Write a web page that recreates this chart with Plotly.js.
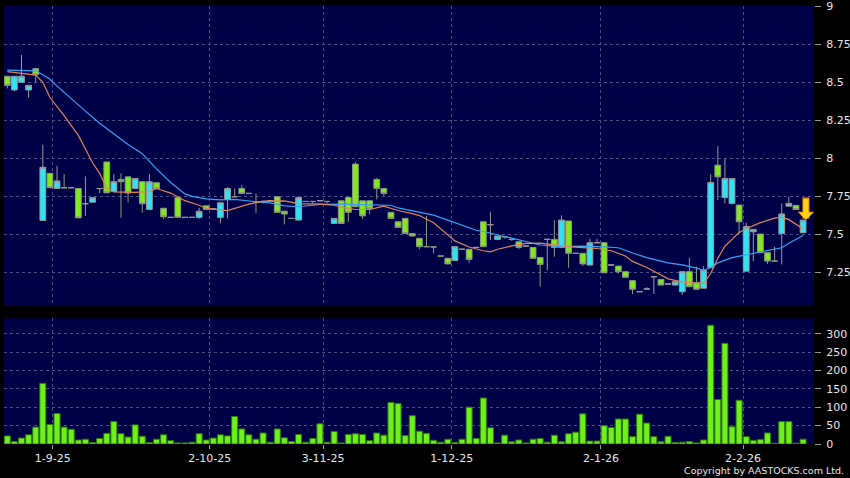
<!DOCTYPE html>
<html>
<head>
<meta charset="utf-8">
<script src="https://cdn.plot.ly/plotly-3.0.1.min.js"></script>
<style>html,body{margin:0;padding:0;background:#000;}#chart{width:850px;height:478px;}</style>
</head>
<body>
<div id="chart"></div>
<script>
// ---- data (index = trading day) ----
const tickLabels = ['1-9-25','2-10-25','3-11-25','1-12-25','2-1-26','2-2-26'];
const tickIdx = [6.4, 28.5, 44.45, 62.55, 83.55, 103.55];

const open = [
8.54,8.45,8.50,8.45,8.59,7.59,7.90,7.80,7.805,7.805,
7.80,7.70,7.71,7.80,7.975,7.78,7.86,7.877,7.80,7.845,
7.662,7.838,7.67,7.61,7.74,7.61,7.61,7.61,7.686,7.665,
7.61,7.728,7.746,7.80,7.768,7.713,7.713,7.72,7.746,7.651,
7.603,7.592,7.715,7.715,7.72,7.715,7.57,7.719,7.741,7.961,
7.719,7.719,7.86,7.80,7.643,7.581,7.603,7.504,7.472,7.417,
7.415,7.355,7.34,7.325,7.40,7.40,7.412,7.581,7.562,7.465,
7.482,7.465,7.449,7.421,7.412,7.345,7.465,7.465,7.412,7.586,
7.373,7.373,7.296,7.443,7.443,7.296,7.289,7.252,7.193,7.12,
7.138,7.219,7.201,7.171,7.164,7.12,7.252,7.18,7.143,7.278,
7.954,7.741,7.702,7.691,7.255,7.515,7.50,7.377,7.322,7.504,
7.684,7.689,7.509];
const high = [
8.54,8.54,8.68,8.48,8.595,8.09,7.90,7.95,7.895,7.805,
7.80,7.88,7.74,7.80,7.976,7.895,7.90,7.877,7.866,7.845,
7.895,7.838,7.67,7.61,7.741,7.61,7.61,7.673,7.686,7.665,
7.706,7.81,7.80,7.822,7.768,7.768,7.713,7.72,7.746,7.651,
7.603,7.741,7.715,7.715,7.72,7.715,7.603,7.719,7.741,7.974,
7.719,7.719,7.87,7.80,7.643,7.581,7.603,7.504,7.472,7.62,
7.415,7.355,7.34,7.417,7.40,7.40,7.412,7.581,7.647,7.487,
7.482,7.465,7.449,7.421,7.412,7.345,7.465,7.592,7.623,7.586,
7.373,7.373,7.469,7.469,7.443,7.296,7.289,7.252,7.193,7.12,
7.15,7.219,7.201,7.171,7.186,7.252,7.344,7.285,7.289,7.893,
8.079,7.998,7.866,7.691,7.575,7.531,7.50,7.377,7.417,7.702,
7.746,7.689,7.592];
const low = [
8.46,8.44,8.50,8.40,8.50,7.586,7.805,7.80,7.805,7.805,
7.607,7.62,7.708,7.77,7.772,7.778,7.607,7.708,7.80,7.64,
7.662,7.80,7.60,7.61,7.61,7.61,7.61,7.60,7.662,7.665,
7.57,7.603,7.746,7.768,7.768,7.64,7.70,7.72,7.643,7.564,
7.603,7.592,7.715,7.70,7.72,7.70,7.57,7.57,7.581,7.68,
7.60,7.63,7.728,7.75,7.603,7.544,7.504,7.487,7.40,7.417,
7.373,7.355,7.303,7.325,7.40,7.31,7.412,7.417,7.461,7.465,
7.47,7.455,7.40,7.421,7.34,7.153,7.26,7.351,7.412,7.278,
7.373,7.29,7.296,7.443,7.245,7.296,7.24,7.215,7.105,7.12,
7.138,7.105,7.164,7.171,7.164,7.099,7.153,7.136,7.143,7.278,
7.724,7.702,7.702,7.504,7.255,7.32,7.377,7.303,7.322,7.30,
7.684,7.662,7.509];
const close = [
8.48,8.54,8.54,8.48,8.55,7.94,7.805,7.85,7.805,7.805,
7.607,7.70,7.74,7.80,7.772,7.845,7.845,7.77,7.866,7.70,
7.845,7.80,7.614,7.61,7.61,7.61,7.61,7.65,7.662,7.665,
7.706,7.80,7.746,7.768,7.768,7.713,7.713,7.72,7.643,7.632,
7.603,7.741,7.715,7.715,7.72,7.715,7.603,7.57,7.643,7.68,
7.62,7.669,7.80,7.768,7.603,7.544,7.504,7.487,7.417,7.417,
7.415,7.355,7.303,7.417,7.40,7.333,7.412,7.417,7.562,7.487,
7.482,7.465,7.412,7.421,7.34,7.30,7.465,7.412,7.592,7.373,
7.373,7.303,7.443,7.443,7.245,7.296,7.252,7.215,7.136,7.12,
7.138,7.219,7.164,7.171,7.186,7.252,7.153,7.136,7.263,7.84,
7.877,7.866,7.866,7.581,7.55,7.531,7.377,7.322,7.322,7.632,
7.702,7.662,7.592];
const volume = [
22,7,16,25,46,165,53,83,46,40,
11,13,4,15,29,61,28,19,52,21,
4,13,25,9,3,3,5,28,11,16,
25,22,75,41,25,13,30,5,41,17,
7,26,5,15,55,5,34,3,26,28,
26,9,30,24,113,110,23,77,35,29,
10,5,13,4,13,100,15,125,44,3,
24,6,11,3,13,15,5,24,6,28,
32,82,8,8,50,45,68,68,20,81,
57,20,6,21,4,5,7,3,11,323,
121,274,47,119,20,10,12,30,2,61,
61,2,13];

// moving averages
const maFastIdx = [0,4,5,6,8,10,11,12,13,14,15,18,20,21,23,25,27,28,31,34,36,39,41,44,46,47,49,51,53,55,57,58,60,61,62,63,65,67,68,69,71,73,75,77,79,81,83,85,87,88,90,92,93,95,97,98,99,100,101,102,103,104,106,108,109,110,112];
const maFast = [8.57,8.548,8.50,8.40,8.28,8.15,8.06,7.97,7.90,7.80,7.778,7.775,7.78,7.80,7.77,7.72,7.69,7.67,7.655,7.697,7.717,7.719,7.70,7.697,7.69,7.677,7.662,7.662,7.684,7.655,7.635,7.622,7.574,7.535,7.49,7.455,7.415,7.39,7.383,7.40,7.422,7.439,7.44,7.428,7.417,7.41,7.405,7.39,7.355,7.32,7.28,7.23,7.205,7.185,7.175,7.175,7.24,7.34,7.42,7.465,7.51,7.535,7.575,7.605,7.612,7.595,7.535];
const maSlowIdx = [0,4,5,6,7,9,11,13,15,17,19,21,23,24,25,26,28,30,32,35,37,39,41,44,48,51,54,55,57,60,62,64,66,67,69,71,73,75,78,81,84,86,88,90,93,95,97,98,99,100,102,104,106,108,109,110,112];
const maSlow = [8.58,8.576,8.55,8.52,8.475,8.39,8.31,8.23,8.16,8.09,8.03,7.93,7.84,7.80,7.765,7.748,7.732,7.725,7.728,7.713,7.705,7.686,7.68,7.695,7.697,7.692,7.69,7.672,7.655,7.625,7.592,7.558,7.525,7.517,7.497,7.473,7.451,7.428,7.417,7.42,7.416,7.41,7.375,7.345,7.31,7.297,7.275,7.26,7.28,7.31,7.345,7.365,7.385,7.405,7.41,7.44,7.49];

const priceTicks = [7.25,7.5,7.75,8,8.25,8.5,8.75,9];
const volTicks = [0,50,100,150,200,250,300];

// ---- build ----
const idx = open.map((_, i) => i);
const last = idx.length - 1;

const gridCol = '#4e4e86';
const tickFont = {family: 'DejaVu Sans, sans-serif', size: 11, color: '#e6e6e6'};

const traces = [
  {
    type: 'bar', x: idx, y: volume, xaxis: 'x', yaxis: 'y',
    marker: {color: '#6fef1c', line: {color: '#2d7a08', width: 1}},
    hoverinfo: 'skip'
  },
  {
    type: 'candlestick', x: idx, open: open, high: high, low: low, close: close,
    xaxis: 'x2', yaxis: 'y2', whiskerwidth: 0,
    increasing: {fillcolor: '#30e2f2', line: {color: '#9a9a9a', width: 1}},
    decreasing: {fillcolor: '#84e81e', line: {color: '#8a9a80', width: 1}},
    hoverinfo: 'skip'
  },
  {
    type: 'scatter', mode: 'lines', x: maSlowIdx, y: maSlow, xaxis: 'x2', yaxis: 'y2',
    line: {color: '#3aa2f0', width: 1.2}, hoverinfo: 'skip'
  },
  {
    type: 'scatter', mode: 'lines', x: maFastIdx, y: maFast, xaxis: 'x2', yaxis: 'y2',
    line: {color: '#e0845a', width: 1.2}, hoverinfo: 'skip'
  }
];

const xRange = [-0.464, 113.54];
const layout = {
  width: 850, height: 478,
  paper_bgcolor: '#000000', plot_bgcolor: '#000046',
  margin: {l: 4, r: 36, t: 6, b: 34, pad: 0},
  showlegend: false,
  bargap: 0.15,
  boxgap: 0.1, boxgroupgap: 0.1,
  xaxis: {
    domain: [0, 1], anchor: 'y', range: xRange, type: 'linear',
    tickvals: tickIdx, ticktext: tickLabels,
    showgrid: true, gridcolor: gridCol, griddash: '3px,3px', gridwidth: 1,
    ticks: 'outside', ticklen: 4, tickcolor: '#9a9a9a',
    tickfont: tickFont, zeroline: false, showline: false, fixedrange: true
  },
  yaxis: {
    domain: [0, 0.287], anchor: 'x', range: [0, 342], side: 'right',
    tickvals: volTicks, ticktext: volTicks.map(String),
    showgrid: true, gridcolor: gridCol, griddash: '3px,3px',
    ticks: 'outside', ticklen: 6, tickcolor: '#9a9a9a', ticklabelstandoff: 3,
    tickfont: tickFont, zeroline: false, showline: false, fixedrange: true
  },
  xaxis2: {
    domain: [0, 1], anchor: 'y2', range: xRange, type: 'linear',
    tickvals: tickIdx, showticklabels: false, ticks: '',
    showgrid: true, gridcolor: gridCol, griddash: '3px,3px',
    zeroline: false, showline: false, rangeslider: {visible: false}, fixedrange: true
  },
  yaxis2: {
    domain: [0.3151, 1], anchor: 'x2', range: [7.026, 9.003], side: 'right',
    tickvals: priceTicks, ticktext: priceTicks.map(String),
    showgrid: true, gridcolor: gridCol, griddash: '3px,3px',
    ticks: 'outside', ticklen: 6, tickcolor: '#9a9a9a', ticklabelstandoff: 3,
    tickfont: tickFont, zeroline: false, showline: false, fixedrange: true
  },
  annotations: [
    {
      xref: 'x2', yref: 'y2', x: last + 0.4, y: close[last], text: '',
      showarrow: true, ax: 0, ay: -24, arrowhead: 1, arrowsize: 0.4, arrowwidth: 7,
      arrowcolor: '#e08a00'
    },
    {
      xref: 'x2', yref: 'y2', x: last + 0.4, y: close[last] + 0.004, text: '',
      showarrow: true, ax: 0, ay: -22, arrowhead: 1, arrowsize: 0.46, arrowwidth: 5,
      arrowcolor: '#ffd21a'
    },
    {
      xref: 'paper', yref: 'paper', x: 1.0395, y: -0.0594, xanchor: 'right', yanchor: 'middle',
      text: 'Copyright by AASTOCKS.com Ltd.', showarrow: false,
      font: {family: 'DejaVu Sans, sans-serif', size: 9.5, color: '#e6e6e6'}
    }
  ]
};

Plotly.newPlot('chart', traces, layout, {staticPlot: true, displayModeBar: false});
</script>
</body>
</html>
